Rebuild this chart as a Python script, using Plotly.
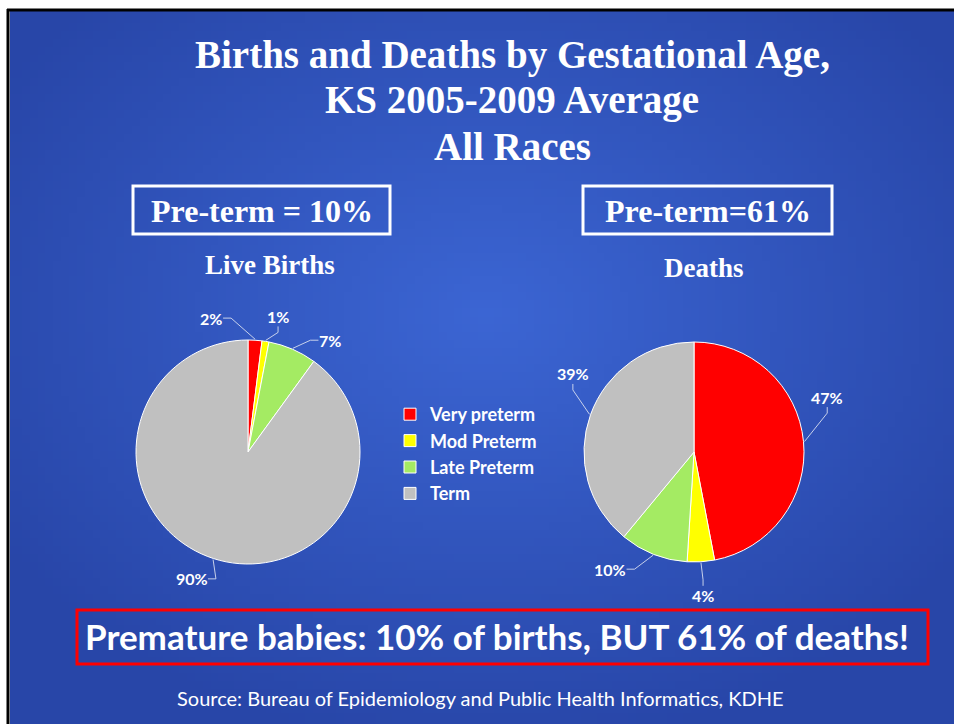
import math, zlib, struct, base64
import numpy as np
import plotly.graph_objects as go

# ---------------- data ----------------
categories = ["Very preterm", "Mod Preterm", "Late Preterm", "Term"]
births_pct = [2, 1, 7, 90]
deaths_pct = [47, 4, 10, 39]
slice_colors = ["#FF0000", "#FFFF00", "#A4EB63", "#C0C0C0"]

title_lines = ["Births and Deaths by Gestational Age,", "KS 2005-2009 Average", "All Races"]
births_box_text = "Pre-term = 10%"
deaths_box_text = "Pre-term=61%"
births_title = "Live Births"
deaths_title = "Deaths"
banner_text = "Premature babies: 10% of births, BUT 61% of deaths!"
source_text = "Source: Bureau of Epidemiology and Public Health Informatics, KDHE"

# ---------------- layout helpers ----------------
W, H = 954, 724
def px(x): return x / W
def py(y): return 1 - y / H

# gradient background image (radial)
gw, gh = 120, 90
yy, xx = np.mgrid[0:gh, 0:gw]
cx, cy = gw * 0.5, gh * 0.42
d = np.sqrt(((xx - cx) / (gw * 0.62)) ** 2 + ((yy - cy) / (gh * 0.62)) ** 2)
d = np.clip(d, 0, 1)
c_center = np.array([60, 102, 212], float)
c_edge = np.array([40, 70, 168], float)
img = (c_center[None, None, :] * (1 - d[..., None]) + c_edge[None, None, :] * d[..., None]).astype(np.uint8)

def png_bytes(arr):
    h, w, _ = arr.shape
    raw = b"".join(b"\x00" + arr[i].tobytes() for i in range(h))
    def chunk(t, dd):
        c = struct.pack(">I", len(dd)) + t + dd
        return c + struct.pack(">I", zlib.crc32(t + dd) & 0xFFFFFFFF)
    return (b"\x89PNG\r\n\x1a\n" + chunk(b"IHDR", struct.pack(">IIBBBBB", w, h, 8, 2, 0, 0, 0))
            + chunk(b"IDAT", zlib.compress(raw, 9)) + chunk(b"IEND", b""))

bg_uri = "data:image/png;base64," + base64.b64encode(png_bytes(img)).decode()

# pie geometry (pixels) and label placement tweaks
pies = [
    dict(vals=births_pct, cx=248, cy=452, r=112, lf=1.24, nudge=[-19, 3.5, 13, 6]),
    dict(vals=deaths_pct, cx=694, cy=452, r=110, lf=1.31, nudge=[-17, 0, 14, 13]),
]

fig = go.Figure()
for i, p in enumerate(pies):
    fig.add_trace(go.Pie(
        labels=categories, values=p["vals"], sort=False, direction="clockwise", rotation=0,
        marker=dict(colors=slice_colors, line=dict(color="white", width=1)),
        textinfo="none", hoverinfo="label+value",
        showlegend=(i == 0),
        domain=dict(x=[px(p["cx"] - p["r"]), px(p["cx"] + p["r"])],
                    y=[py(p["cy"] + p["r"]), py(p["cy"] - p["r"])]),
    ))

annotations = []
shapes = []
sans = "Lato"
serif = "Liberation Serif"
LBL = 16

# data labels with elbow leader lines
for p in pies:
    total = sum(p["vals"])
    cum = 0
    for v, nud in zip(p["vals"], p["nudge"]):
        mid = (cum + v / 2) / total * 360
        cum += v
        la = math.radians(mid + nud)
        ma = math.radians(mid)
        lr = p["r"] * p["lf"]
        lx = p["cx"] + lr * math.sin(la)
        ly = p["cy"] - lr * math.cos(la)
        ex = p["cx"] + (p["r"] + 1) * math.sin(ma)
        ey = p["cy"] - (p["r"] + 1) * math.cos(ma)
        dx, dy = ex - lx, ey - ly
        txt = f"{v}%"
        hw = 0.5 * len(txt) * LBL * 0.56 + 3
        if abs(dx) > abs(dy):
            s = 1 if dx > 0 else -1
            p1 = (lx + s * hw, ly)
            p2 = (lx + s * (hw + 8), ly)
        else:
            s = 1 if dy > 0 else -1
            p1 = (lx, ly + s * 10)
            p2 = (lx, ly + s * 16)
        if math.hypot(ex - p2[0], ey - p2[1]) > 4:
            shapes.append(dict(type="path", xref="paper", yref="paper",
                               path=f"M {px(ex)} {py(ey)} L {px(p2[0])} {py(p2[1])} L {px(p1[0])} {py(p1[1])}",
                               line=dict(color="rgba(215,222,240,0.9)", width=1)))
        annotations.append(dict(x=px(lx), y=py(ly), xref="paper", yref="paper",
                                text=txt, showarrow=False, xanchor="center", yanchor="middle",
                                font=dict(family=sans, size=LBL, color="white", weight="bold")))

# title
for t, yc in zip(title_lines, [55, 100, 147]):
    annotations.append(dict(x=px(512), y=py(yc), xref="paper", yref="paper", text=t, showarrow=False,
                            xanchor="center", yanchor="middle",
                            font=dict(family=serif, size=39, color="white", weight="bold")))

# boxes
for txt, (x0, x1) in [(births_box_text, (133, 390)), (deaths_box_text, (583, 832))]:
    shapes.append(dict(type="rect", xref="paper", yref="paper", x0=px(x0), x1=px(x1), y0=py(234), y1=py(186),
                       line=dict(color="white", width=3)))
    annotations.append(dict(x=px((x0 + x1) / 2), y=py(211), xref="paper", yref="paper", text=txt,
                            showarrow=False, xanchor="center", yanchor="middle",
                            font=dict(family=serif, size=32, color="white", weight="bold")))

annotations.append(dict(x=px(270), y=py(265), xref="paper", yref="paper", text=births_title, showarrow=False,
                        xanchor="center", yanchor="middle",
                        font=dict(family=serif, size=27, color="white", weight="bold")))
annotations.append(dict(x=px(704), y=py(268), xref="paper", yref="paper", text=deaths_title, showarrow=False,
                        xanchor="center", yanchor="middle",
                        font=dict(family=serif, size=27, color="white", weight="bold")))

# banner
shapes.append(dict(type="rect", xref="paper", yref="paper", x0=px(77), x1=px(928), y0=py(664), y1=py(610),
                   line=dict(color="#FF0000", width=3)))
annotations.append(dict(x=px(497), y=py(636), xref="paper", yref="paper", text=banner_text, showarrow=False,
                        xanchor="center", yanchor="middle",
                        font=dict(family=sans, size=35, color="white", weight="bold")))
annotations.append(dict(x=px(481), y=py(698), xref="paper", yref="paper", text=source_text, showarrow=False,
                        xanchor="center", yanchor="middle",
                        font=dict(family=sans, size=20, color="white")))

# slide border (top and left edges)
shapes.append(dict(type="line", xref="paper", yref="paper", x0=px(7), x1=px(W), y0=py(10), y1=py(10),
                   line=dict(color="black", width=3)))
shapes.append(dict(type="line", xref="paper", yref="paper", x0=px(8), x1=px(8), y0=py(9), y1=py(H),
                   line=dict(color="black", width=3)))

fig.update_layout(
    width=W, height=H, margin=dict(l=0, r=0, t=0, b=0),
    paper_bgcolor="white", plot_bgcolor="white",
    images=[dict(source=bg_uri, xref="paper", yref="paper", x=px(10), y=py(11),
                 sizex=(W - 10) / W, sizey=(H - 11) / H, xanchor="left", yanchor="top",
                 sizing="stretch", layer="below")],
    shapes=shapes, annotations=annotations,
    legend=dict(x=px(390), y=py(396), xanchor="left", yanchor="top", bgcolor="rgba(0,0,0,0)",
                font=dict(family=sans, size=18, color="white", weight="bold"), itemclick=False),
)

fig.write_html("out.html", config={"displayModeBar": False},
               post_script="document.body.style.margin='0';document.body.style.overflow='hidden';")
